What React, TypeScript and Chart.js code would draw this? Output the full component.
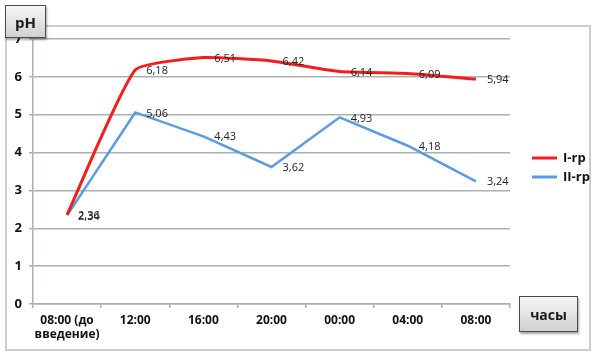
import React, { useEffect, useRef } from "react";
import { Chart, registerables } from "chart.js";

Chart.register(...registerables);

const categories: (string | string[])[] = [
  ["08:00 (до", "введение)"],
  "12:00",
  "16:00",
  "20:00",
  "00:00",
  "04:00",
  "08:00",
];
const groupI = [2.36, 6.18, 6.51, 6.42, 6.14, 6.09, 5.94];
const groupII = [2.34, 5.06, 4.43, 3.62, 4.93, 4.18, 3.24];
const seriesNames = ["I-rp", "II-rp"];
const yTicks = [0, 1, 2, 3, 4, 5, 6, 7];

const fmt = (v: number) => v.toFixed(2).replace(".", ",");

const labelsPlugin = {
  id: "valueLabels",
  afterDatasetsDraw(chart: any) {
    const ctx = chart.ctx;
    ctx.save();
    ctx.font = "11px 'Open Sans'";
    ctx.fillStyle = "#222";
    ctx.textAlign = "left";
    ctx.textBaseline = "middle";
    const n = chart.data.datasets.length;
    for (let d = n - 1; d >= 0; d--) {
      const meta = chart.getDatasetMeta(d);
      const ds = chart.data.datasets[d];
      meta.data.forEach((pt: any, i: number) => {
        ctx.fillText(fmt(ds.data[i]), pt.x + 11, pt.y + 1);
      });
    }
    ctx.restore();
  },
};

const legendPlugin = {
  id: "customLegend",
  afterDraw(chart: any) {
    const ctx = chart.ctx;
    const area = chart.chartArea;
    ctx.save();
    ctx.font = "bold 13px 'Open Sans'";
    ctx.textBaseline = "middle";
    ctx.textAlign = "left";
    chart.data.datasets.forEach((ds: any, i: number) => {
      const y = area.top + 119 + i * 19;
      const x = area.right + 22;
      ctx.strokeStyle = ds.borderColor;
      ctx.lineWidth = 3;
      ctx.beginPath();
      ctx.moveTo(x, y);
      ctx.lineTo(x + 25, y);
      ctx.stroke();
      ctx.fillStyle = "#111";
      ctx.fillText(ds.label, x + 31, y);
    });
    ctx.restore();
  },
};

export default function App() {
  const ref = useRef<HTMLCanvasElement>(null);
  useEffect(() => {
    if (!ref.current) return;
    const gridColor = "#a9b1b1";
    const chart = new Chart(ref.current, {
      type: "line",
      data: {
        labels: categories as any,
        datasets: [
          {
            label: seriesNames[0],
            data: groupI,
            borderColor: "#f41c1c",
            backgroundColor: "#f41c1c",
            borderWidth: 3,
            pointRadius: 0,
            tension: 0.15,
          },
          {
            label: seriesNames[1],
            data: groupII,
            borderColor: "#5b9be6",
            backgroundColor: "#5b9be6",
            borderWidth: 2.5,
            pointRadius: 0,
            tension: 0,
          },
        ],
      },
      options: {
        responsive: false,
        animation: false,
        layout: { padding: { left: 0, top: 39, right: 90, bottom: 0 } },
        plugins: {
          legend: { display: false },
          tooltip: { enabled: false },
        },
        scales: {
          x: {
            offset: true,
            grid: {
              offset: true,
              drawOnChartArea: false,
              drawTicks: true,
              tickLength: 4,
              color: gridColor,
              lineWidth: 1.5,
            },
            border: { display: true, color: gridColor, width: 1.5 },
            ticks: {
              color: "#111",
              font: { family: "'Open Sans'", weight: "bold", size: 12 },
              padding: 5,
              maxRotation: 0,
              autoSkip: false,
            },
            afterFit(scale: any) {
              scale.height = 57;
            },
          },
          y: {
            min: yTicks[0],
            max: yTicks[yTicks.length - 1],
            ticks: {
              stepSize: 1,
              color: "#111",
              font: { family: "'Open Sans'", weight: "bold", size: 13 },
              padding: 7,
            },
            grid: {
              color: gridColor,
              lineWidth: 1.5,
              tickLength: 4,
            },
            border: { display: true, color: gridColor, width: 1.5 },
            afterFit(scale: any) {
              scale.width = 33;
            },
          },
        },
      },
      plugins: [labelsPlugin, legendPlugin],
    });
    return () => chart.destroy();
  }, []);

  const boxStyle: React.CSSProperties = {
    position: "absolute",
    boxSizing: "border-box",
    background: "linear-gradient(#f6f6f6, #d0d2d2)",
    border: "1px solid #4a4a4a",
    boxShadow: "1px 2px 2px rgba(0,0,0,0.35)",
    fontFamily: "'Open Sans', sans-serif",
    fontWeight: "bold",
    color: "#1a1a1a",
    display: "flex",
    alignItems: "center",
    justifyContent: "center",
  };

  return (
    <div
      style={{
        position: "fixed",
        left: 0,
        top: 0,
        width: 600,
        height: 361,
        background: "#fff",
        overflow: "hidden",
      }}
    >
      <div
        style={{
          position: "absolute",
          left: 5,
          top: 25,
          width: 586,
          height: 326,
          border: "2px solid #c9cdcd",
          boxSizing: "border-box",
        }}
      />
      <canvas
        ref={ref}
        width={600}
        height={361}
        style={{ position: "absolute", left: 0, top: 0 }}
      />
      <div style={{ ...boxStyle, left: 5, top: 5, width: 41, height: 33, fontSize: 15 }}>
        pH
      </div>
      <div style={{ ...boxStyle, left: 519, top: 296, width: 59, height: 36, fontSize: 14 }}>
        часы
      </div>
    </div>
  );
}
